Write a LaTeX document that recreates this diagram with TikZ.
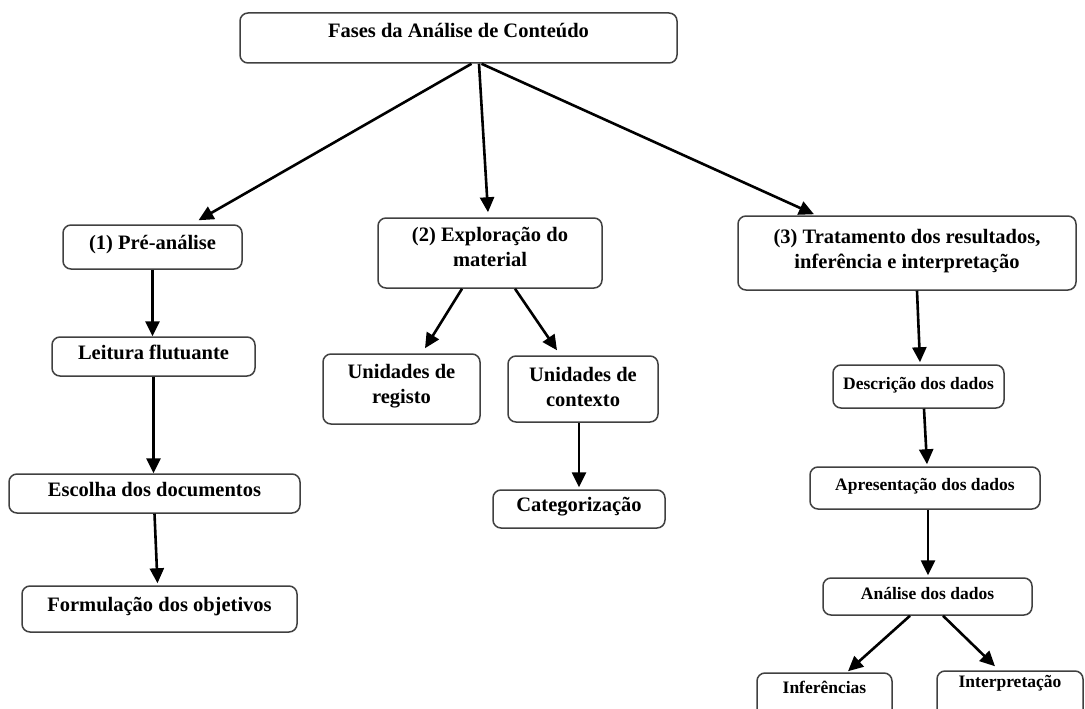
\documentclass[tikz,border=0pt]{standalone}
\usepackage{fontspec}
\setmainfont{Liberation Serif}
\usetikzlibrary{arrows.meta}
\begin{document}
\begin{tikzpicture}[x=1pt,y=-1pt,
  box/.style={draw=black!75, line width=1.5pt, rounded corners=8pt, fill=white,
    font=\fontsize{20.5}{24.5}\selectfont\bfseries, align=center, inner sep=0pt},
  one/.style={text height=0.72em, text depth=0.22em},
  sbox/.style={box, font=\fontsize{17.5}{21}\selectfont\bfseries},
  lbl/.style={font=\fontsize{17.5}{21}\selectfont\bfseries, inner sep=0pt, text height=0.72em, text depth=0.22em},
  llbl/.style={font=\fontsize{20.5}{24.5}\selectfont\bfseries, inner sep=0pt, align=center},
  arr/.style={-{Triangle[length=15pt,width=14pt]}, line width=2.6pt, black}]
\useasboundingbox (0,0) rectangle (1085,709);
\clip (0,0) rectangle (1085,709);

% boxes
\node[box, one, text depth=0.72em, minimum width=437pt, minimum height=50pt] (top) at (458.5,38) {Fases da Análise de Conteúdo};
\node[box, one, minimum width=179pt, minimum height=44pt] (pre) at (152.5,247) {(1) Pré-análise};
\node[box, minimum width=224pt, minimum height=70pt,
  label={[llbl, name=expltxt, yshift=6pt]center:{(2) Exploração do\\material}}] (expl) at (490,253) {};
\node[box, minimum width=338pt, minimum height=74pt,
  label={[llbl, name=trattxt, yshift=2pt]center:{(3) Tratamento dos resultados,\\inferência e interpretação}}] (trat) at (907,253) {};
\node[box, one, minimum width=203pt, minimum height=39pt] (leit) at (153.5,356.5) {Leitura flutuante};
\node[box, one, minimum width=291pt, minimum height=39pt] (esc) at (154.5,493.5) {Escolha dos documentos};
\node[box, one, minimum width=275pt, minimum height=46pt] (form) at (159.5,609) {Formulação dos objetivos};
\node[box, minimum width=157pt, minimum height=70pt,
  label={[llbl, name=uregtxt, yshift=3pt]center:{Unidades de\\registo}}] (ureg) at (401.5,389) {};
\node[box, minimum width=150pt, minimum height=66pt,
  label={[llbl, name=uctxtxt, yshift=2pt]center:{Unidades de\\contexto}}] (uctx) at (583,389) {};
\node[box, one, minimum width=172pt, minimum height=38pt] (cat) at (579,509) {Categorização};
\node[sbox, one, minimum width=171pt, minimum height=43pt] (desc) at (918.5,386.5) {Descrição dos dados};
\node[sbox, one, minimum width=230pt, minimum height=42pt] (apres) at (925,488) {Apresentação dos dados};
\node[sbox, one, minimum width=209pt, minimum height=37pt] (anal) at (927.5,596.5) {Análise dos dados};
\node[sbox, minimum width=135pt, minimum height=54pt,
  label={[lbl, name=infertxt, yshift=9.5pt]center:Inferências}] (infer) at (824.5,700) {};
\node[sbox, minimum width=146pt, minimum height=56pt,
  label={[lbl, name=interptxt, yshift=14.5pt]center:Interpretação}] (interp) at (1010,699) {};

% connectors
\draw[arr] ([xshift=13pt]top.south) -- ([xshift=46pt,yshift=4pt]pre.north);
\draw[arr] ([xshift=20.5pt]top.south) -- ([xshift=-2pt,yshift=5pt]expl.north);
\draw[arr] ([xshift=23pt]top.south) -- ([xshift=-93pt,yshift=1pt]trat.north);
\draw[arr] (pre.south) -- (pre.south |- leit.north);
\draw[arr] (leit.south) -- (leit.south |- esc.north);
\draw[arr] (esc.south) -- ([xshift=-2pt,yshift=2pt]form.north);
\draw[arr] ([xshift=-28pt]expl.south) -- ([xshift=23.5pt,yshift=5pt]ureg.north);
\draw[arr] ([xshift=25pt]expl.south) -- ([xshift=-26pt,yshift=5pt]uctx.north);
\draw[arr] ([xshift=-4pt]uctx.south) -- ([yshift=2pt]cat.north);
\draw[arr] ([xshift=10pt]trat.south) -- ([xshift=1.5pt,yshift=2pt]desc.north);
\draw[arr] ([xshift=5.5pt]desc.south) -- ([xshift=2pt,yshift=2pt]apres.north);
\draw[arr] ([xshift=3pt]apres.south) -- ([xshift=0.5pt,yshift=2pt]anal.north);
\draw[arr] ([xshift=-17.5pt]anal.south) -- ([xshift=23.5pt,yshift=1pt]infer.north);
\draw[arr] ([xshift=15.5pt]anal.south) -- ([xshift=-15pt,yshift=4pt]interp.north);
\end{tikzpicture}
\end{document}
